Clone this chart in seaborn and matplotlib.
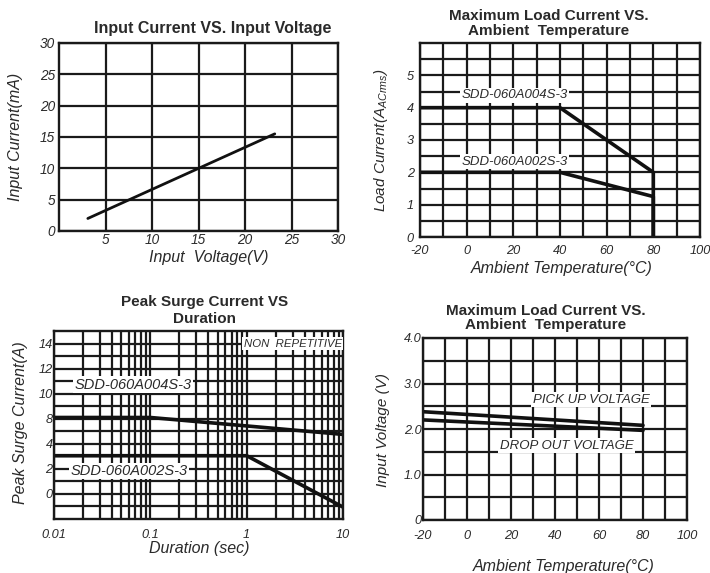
import numpy as np
import pandas as pd
import matplotlib
matplotlib.use("Agg")
import matplotlib.pyplot as plt
from matplotlib.ticker import FixedLocator, NullFormatter, LogLocator
import seaborn as sns

# --- data ---
# Input Current VS. Input Voltage
in_voltage = [3.1, 23.2]
in_current = [2.0, 15.5]

# Maximum Load Current VS. Ambient Temperature
load_temp = [-20, 40, 80, 80]
load_004 = [4.0, 4.0, 2.0, 0.0]
load_002 = [2.0, 2.0, 1.25, 0.0]

# Peak Surge Current VS Duration (y in grid units, labels are odd on the original)
surge_dur_004 = [0.01, 0.1, 10]
surge_004 = [8.1, 8.1, 6.75]
surge_dur_002 = [0.01, 1.0, 10]
surge_002 = [5.05, 5.05, 0.95]
surge_ytick_pos = [2, 4, 6, 8, 10, 12, 14]
surge_ytick_lab = ["0", "2", "4", "8", "10", "12", "14"]

# Pick up / drop out voltage VS. Ambient Temperature
volt_temp = [-20, 80]
pickup_v = [2.38, 2.08]
dropout_v = [2.20, 1.97]

sns.set_style("white")
plt.rcParams["font.family"] = ["Liberation Sans", "DejaVu Sans"]
plt.rcParams["mathtext.fontset"] = "custom"
plt.rcParams["mathtext.it"] = "Liberation Sans:italic"
plt.rcParams["mathtext.rm"] = "Liberation Sans:italic"
plt.rcParams["axes.unicode_minus"] = False

W, H = 710, 573
fig = plt.figure(figsize=(W / 100, H / 100), dpi=100)

GRID = "#1a1a1a"
TXT = "#2a2a2a"
LINE = "#111111"


def px_axes(l, t, r, b):
    return fig.add_axes([l / W, 1 - b / H, (r - l) / W, (b - t) / H])


def ftext(x, y, s, **kw):
    fig.text(x / W, 1 - y / H, s, ha="center", va="center", color=TXT, **kw)


def style_ax(ax, xpad, ypad, size=9.2):
    ax.grid(True, which="both", color=GRID, linewidth=1.6)
    ax.set_axisbelow(True)
    for sp in ax.spines.values():
        sp.set_color(GRID)
        sp.set_linewidth(1.7)
    ax.tick_params(axis="both", which="both", length=0, labelsize=size, labelcolor=TXT)
    ax.tick_params(axis="x", pad=xpad)
    ax.tick_params(axis="y", pad=ypad)
    for lab in ax.get_xticklabels() + ax.get_yticklabels():
        lab.set_fontstyle("italic")
    ax.set_xlabel("")
    ax.set_ylabel("")


label_box = dict(facecolor="white", edgecolor="none", pad=1.0)

# ---------------- panel 1 ----------------
ax1 = px_axes(59, 43, 338, 231)
sns.lineplot(x=in_voltage, y=in_current, ax=ax1, color=LINE, linewidth=2.0,
             estimator=None, sort=False)
ax1.set_xlim(0, 30)
ax1.set_ylim(0, 30)
ax1.set_xticks([5, 10, 15, 20, 25, 30])
ax1.set_yticks([0, 5, 10, 15, 20, 25, 30])
style_ax(ax1, 1.5, 3, size=9.8)
ftext(213, 29, "Input Current VS. Input Voltage", fontsize=11.5, fontweight="bold")
ftext(209, 258, "Input  Voltage(V)", fontsize=11.5, style="italic")
ftext(16, 137, "Input Current(mA)", fontsize=11.5, style="italic", rotation=90)

# ---------------- panel 2 ----------------
ax2 = px_axes(420, 43, 700, 237)
sns.lineplot(x=load_temp, y=load_004, ax=ax2, color=LINE, linewidth=2.6,
             estimator=None, sort=False)
sns.lineplot(x=load_temp, y=load_002, ax=ax2, color=LINE, linewidth=2.6,
             estimator=None, sort=False)
ax2.set_xlim(-20, 100)
ax2.set_ylim(0, 6)
ax2.set_xticks([-20, 0, 20, 40, 60, 80, 100])
ax2.xaxis.set_minor_locator(FixedLocator(np.arange(-10, 100, 20)))
ax2.set_yticks([0, 1, 2, 3, 4, 5])
ax2.yaxis.set_minor_locator(FixedLocator(np.arange(0.5, 6, 1.0)))
style_ax(ax2, 6, 4.5)
ax2.text(20.5, 4.38, "SDD-060A004S-3", fontsize=9.5, style="italic", color=TXT,
         ha="center", va="center", bbox=label_box, zorder=3)
ax2.text(20.5, 2.33, "SDD-060A002S-3", fontsize=9.5, style="italic", color=TXT,
         ha="center", va="center", bbox=label_box, zorder=3)
ftext(549, 23.5, "Maximum Load Current VS.\nAmbient  Temperature", fontsize=11,
      fontweight="bold", linespacing=1.05)
ftext(562, 268, "Ambient Temperature(°C)", fontsize=11.5, style="italic")
ftext(381, 140, r"Load Current(A$_{ACrms}$)", fontsize=11, style="italic", rotation=90)

# ---------------- panel 3 ----------------
ax3 = px_axes(54, 331, 343, 519)
ax3.set_xscale("log")
sns.lineplot(x=surge_dur_004, y=surge_004, ax=ax3, color=LINE, linewidth=2.6,
             estimator=None, sort=False)
sns.lineplot(x=surge_dur_002, y=surge_002, ax=ax3, color=LINE, linewidth=2.6,
             estimator=None, sort=False)
ax3.set_xlim(0.01, 10)
ax3.set_ylim(0, 15)
ax3.set_xticks([0.01, 0.1, 1, 10])
ax3.set_xticklabels(["0.01", "0.1", "1", "10"])
ax3.xaxis.set_minor_locator(LogLocator(base=10, subs=np.arange(2, 10)))
ax3.xaxis.set_minor_formatter(NullFormatter())
ax3.set_yticks(surge_ytick_pos)
ax3.set_yticklabels(surge_ytick_lab)
ax3.yaxis.set_minor_locator(FixedLocator(np.arange(1, 15, 2)))
style_ax(ax3, 7, 1)
ax3.text(0.066, 10.7, "SDD-060A004S-3", fontsize=10.5, style="italic", color=TXT,
         ha="center", va="center", bbox=label_box, zorder=3)
ax3.text(0.06, 3.83, "SDD-060A002S-3", fontsize=10.5, style="italic", color=TXT,
         ha="center", va="center", bbox=label_box, zorder=3)
ax3.text(3.0, 14.0, "NON  REPETITIVE", fontsize=8.2, style="italic", color=TXT,
         ha="center", va="center", bbox=label_box, zorder=3)
ftext(205, 310.5, "Peak Surge Current VS\nDuration", fontsize=11,
      fontweight="bold", linespacing=1.2)
ftext(199, 548, "Duration (sec)", fontsize=11.5, style="italic")
ftext(21, 423, "Peak Surge Current(A)", fontsize=11.5, style="italic", rotation=90)

# ---------------- panel 4 ----------------
ax4 = px_axes(423, 338, 687, 520)
sns.lineplot(x=volt_temp, y=pickup_v, ax=ax4, color=LINE, linewidth=2.6,
             estimator=None, sort=False)
sns.lineplot(x=volt_temp, y=dropout_v, ax=ax4, color=LINE, linewidth=2.6,
             estimator=None, sort=False)
ax4.set_xlim(-20, 100)
ax4.set_ylim(0, 4)
ax4.set_xticks([-20, 0, 20, 40, 60, 80, 100])
ax4.xaxis.set_minor_locator(FixedLocator(np.arange(-10, 100, 20)))
ax4.set_yticks([0, 1, 2, 3, 4])
ax4.set_yticklabels(["0", "1.0", "2.0", "3.0", "4.0"])
ax4.yaxis.set_minor_locator(FixedLocator(np.arange(0.5, 4, 1.0)))
style_ax(ax4, 7, 1)
ax4.text(56.4, 2.64, "PICK UP VOLTAGE", fontsize=9.5, style="italic", color=TXT,
         ha="center", va="center", bbox=label_box, zorder=3)
ax4.text(45.2, 1.63, "DROP OUT VOLTAGE", fontsize=9.5, style="italic", color=TXT,
         ha="center", va="center", bbox=label_box, zorder=3)
ftext(546, 318, "Maximum Load Current VS.\nAmbient  Temperature", fontsize=11,
      fontweight="bold", linespacing=0.95)
ftext(564, 567, "Ambient Temperature(°C)", fontsize=11.5, style="italic")
ftext(383, 430, "Input Voltage (V)", fontsize=11, style="italic", rotation=90)

fig.savefig("out.png", dpi=100, facecolor="white")
